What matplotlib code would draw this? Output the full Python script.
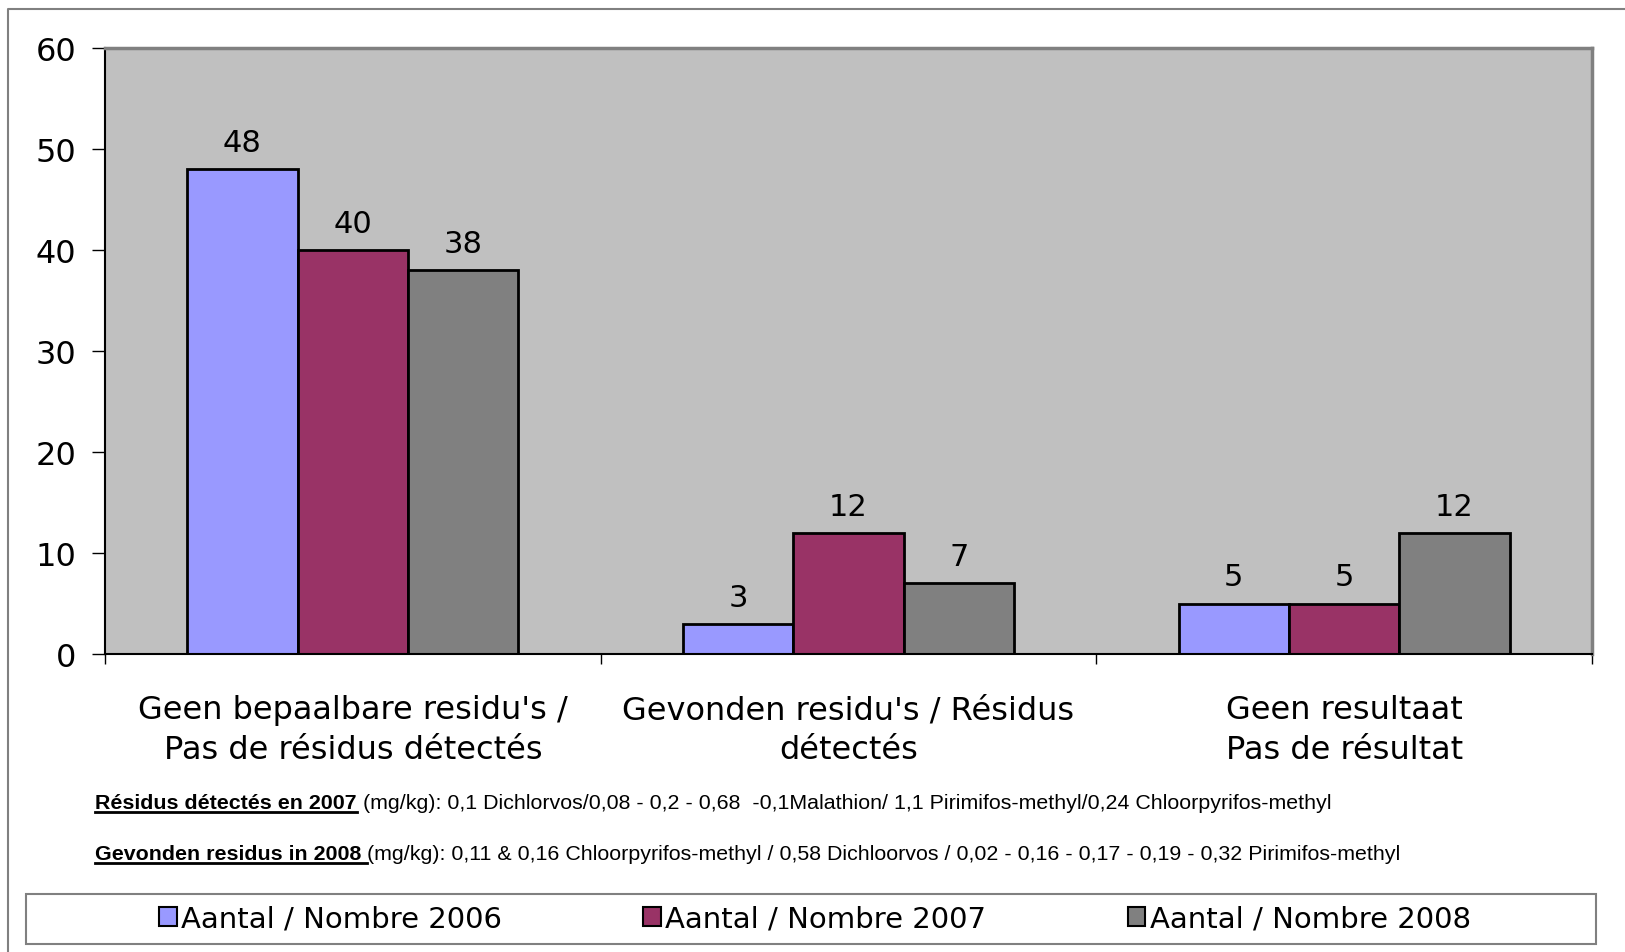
import numpy as np
import matplotlib.pyplot as plt
from matplotlib.patches import Patch, Rectangle

categories = ["Geen bepaalbare residu's /\nPas de résidus détectés",
              "Gevonden residu's / Résidus\ndétectés",
              "Geen resultaat\nPas de résultat"]
series = ["Aantal / Nombre 2006", "Aantal / Nombre 2007", "Aantal / Nombre 2008"]
values_2006 = [48, 3, 5]
values_2007 = [40, 12, 5]
values_2008 = [38, 7, 12]
colors = ["#9999FF", "#993366", "#808080"]
yticks = [0, 10, 20, 30, 40, 50, 60]

note1_bold = "Résidus détectés en 2007"
note1_rest = (" (mg/kg): 0,1 Dichlorvos/0,08 - 0,2 - 0,68  -0,1Malathion/ "
              "1,1 Pirimifos-methyl/0,24 Chloorpyrifos-methyl")
note2_bold = "Gevonden residus in 2008 "
note2_rest = ("(mg/kg): 0,11 & 0,16 Chloorpyrifos-methyl / 0,58 Dichloorvos / "
              "0,02 - 0,16 - 0,17 - 0,19 - 0,32 Pirimifos-methyl")

W, H = 1625, 953
fig = plt.figure(figsize=(W / 100, H / 100), dpi=100)

# outer border (left + top visible)
fig.lines.append(plt.Line2D([8 / W, 8 / W, 1.0], [0.0, 1 - 10 / H, 1 - 10 / H],
                            transform=fig.transFigure, color="#808080",
                            linewidth=1.5))

ax = fig.add_axes([105 / W, 1 - 655 / H, (1592 - 105) / W, (655 - 49) / H])
ax.set_facecolor("#C0C0C0")

x = np.arange(len(categories))
width = 0.2227
all_values = [values_2006, values_2007, values_2008]
for i, vals in enumerate(all_values):
    bars = ax.bar(x + (i - 1) * width, vals, width, color=colors[i],
                  edgecolor="black", linewidth=2, label=series[i])
    for b, v in zip(bars, vals):
        ax.text(b.get_x() + b.get_width() / 2, v + 1.2, str(v),
                ha="center", va="bottom", fontsize=22)

ax.set_xlim(-0.5, len(categories) - 0.5)
ax.set_ylim(0, 60)
ax.set_yticks(yticks)
ax.set_yticklabels([str(t) for t in yticks], fontsize=23)
ax.set_xticks(np.arange(len(categories) + 1) - 0.5)
ax.set_xticklabels([])
ax.tick_params(axis="x", length=7.5, width=1, direction="out")
ax.tick_params(axis="y", length=9.5, width=1, direction="out", pad=11)

ax.spines["left"].set_color("black")
ax.spines["bottom"].set_color("black")
ax.spines["left"].set_linewidth(1.5)
ax.spines["bottom"].set_linewidth(1.5)
ax.spines["top"].set_color("#808080")
ax.spines["right"].set_color("#808080")
ax.spines["top"].set_linewidth(2.5)
ax.spines["right"].set_linewidth(2.5)

for i, cat in enumerate(categories):
    ax.text(i, -4.0, cat, ha="center", va="top", fontsize=23,
            linespacing=1.37, clip_on=False)

# notes with underlined bold part
fig.canvas.draw()
renderer = fig.canvas.get_renderer()
for ypix, bold, rest in [(809, note1_bold, note1_rest), (860, note2_bold, note2_rest)]:
    yf = 1 - ypix / H
    t = fig.text(95 / W, yf, bold, fontsize=15.4, fontweight="bold",
                 family="Liberation Sans", va="baseline", ha="left")
    bb = t.get_window_extent(renderer)
    fig.lines.append(plt.Line2D([bb.x0 / W, bb.x1 / W],
                                [yf - 4 / H, yf - 4 / H],
                                transform=fig.transFigure, color="black",
                                linewidth=2))
    fig.text(bb.x1 / W, yf, rest, fontsize=15.4, family="Liberation Sans",
             va="baseline", ha="left")

# legend box across the bottom
fig.patches.append(Rectangle((26 / W, 1 - 945 / H), (1596 - 26) / W, 50 / H,
                             transform=fig.transFigure, fill=False,
                             edgecolor="#808080", linewidth=1.5))
handles = [Patch(facecolor=c, edgecolor="black", linewidth=1.5) for c in colors]
leg = fig.legend(handles, series, loc="center",
                 bbox_to_anchor=(815 / W, 1 - 920 / H),
                 ncol=3, fontsize=21, frameon=False,
                 handlelength=0.6, handleheight=0.6, handletextpad=0.15,
                 columnspacing=4.85, borderaxespad=0)

fig.savefig("out.png", dpi=100)
